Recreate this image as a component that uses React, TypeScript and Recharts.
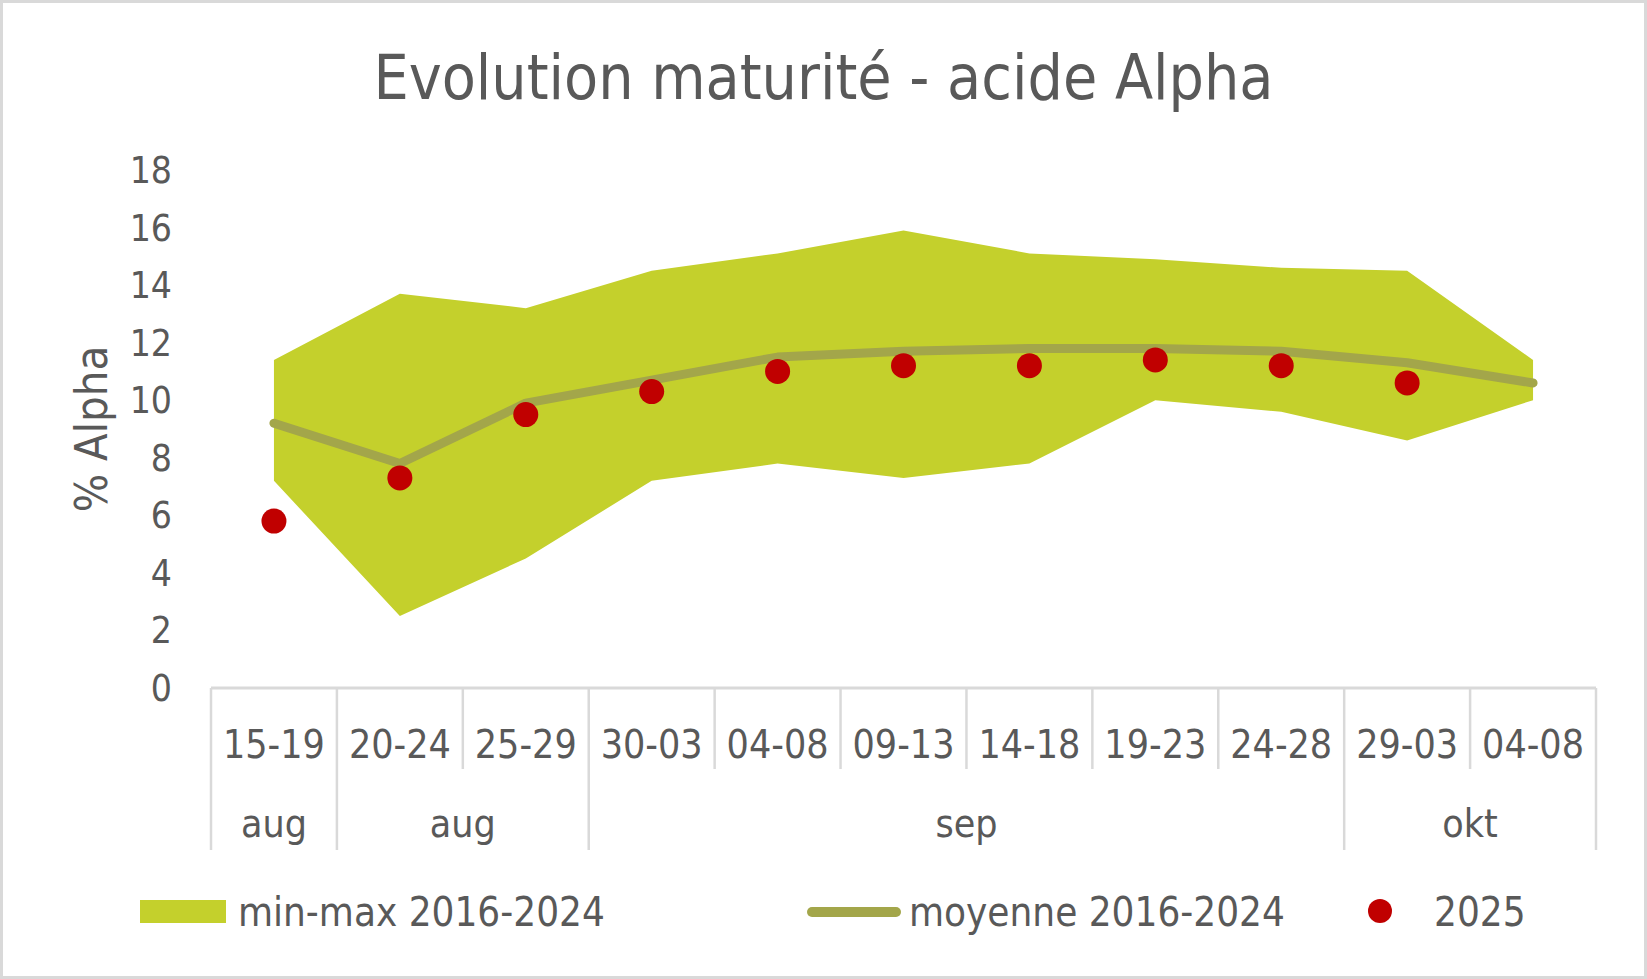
import React from 'react';
import { ComposedChart, Area, Line, XAxis, YAxis, Legend } from 'recharts';

const categories = ['15-19', '20-24', '25-29', '30-03', '04-08', '09-13', '14-18', '19-23', '24-28', '29-03', '04-08'];
const monthLabels = ['aug', 'aug', 'sep', 'okt'];
const monthSpans = [1, 2, 6, 2];
const maxValues = [11.4, 13.7, 13.2, 14.5, 15.1, 15.9, 15.1, 14.9, 14.6, 14.5, 11.4];
const minValues = [7.2, 2.5, 4.5, 7.2, 7.8, 7.3, 7.8, 10.0, 9.6, 8.6, 10.0];
const meanValues = [9.2, 7.8, 9.9, 10.7, 11.5, 11.7, 11.8, 11.8, 11.7, 11.3, 10.6];
const values2025: (number | null)[] = [5.8, 7.3, 9.5, 10.3, 11.0, 11.2, 11.2, 11.4, 11.2, 10.6, null];
const yTicks = [0, 2, 4, 6, 8, 10, 12, 14, 16, 18];

const TITLE = 'Evolution maturité - acide Alpha';
const Y_LABEL = '% Alpha';
const NAME_RANGE = 'min-max 2016-2024';
const NAME_MEAN = 'moyenne 2016-2024';
const NAME_2025 = '2025';

const data = categories.map((cat, i) => ({
  key: `${i}:${cat}`,
  cat,
  range: [minValues[i], maxValues[i]],
  mean: meanValues[i],
  y2025: values2025[i],
}));

const W = 1647;
const H = 979;
const MARGIN = { top: 170, right: 51, bottom: 99, left: 0 };
const YAXIS_W = 211;
const XAXIS_H = 192;
const PLOT_W = W - MARGIN.left - MARGIN.right - YAXIS_W;
const BAND = PLOT_W / categories.length;

const FONT = '"DejaVu Sans Condensed", "DejaVu Sans", sans-serif';
const TEXT = '#595959';
const GRID = '#D9D9D9';
const C_RANGE = '#C4D02C';
const C_MEAN = '#A3A64A';
const C_2025 = '#C00000';

const groupStart: Record<number, { label: string; span: number }> = {};
{
  let acc = 0;
  monthLabels.forEach((label, g) => {
    groupStart[acc] = { label, span: monthSpans[g] };
    acc += monthSpans[g];
  });
}

const XTick = (props: any) => {
  const { x, y, index } = props;
  const left = x - BAND / 2;
  const g = groupStart[index];
  const isLast = index === categories.length - 1;
  return (
    <g>
      <line x1={left} x2={left} y1={y} y2={y + (g ? 162 : 81)} stroke={GRID} strokeWidth={2.5} />
      {isLast && (
        <line x1={x + BAND / 2} x2={x + BAND / 2} y1={y} y2={y + 162} stroke={GRID} strokeWidth={2.5} />
      )}
      <text x={x} y={y + 70} textAnchor="middle" fill={TEXT} fontSize={39} fontFamily={FONT}>
        {categories[index]}
      </text>
      {g && (
        <text x={left + (g.span * BAND) / 2} y={y + 149} textAnchor="middle" fill={TEXT} fontSize={39} fontFamily={FONT}>
          {g.label}
        </text>
      )}
    </g>
  );
};

const YTick = (props: any) => {
  const { x, y, payload } = props;
  return (
    <text x={x} y={y + 13} textAnchor="end" fill={TEXT} fontSize={37} fontFamily={FONT}>
      {payload.value}
    </text>
  );
};

const renderLegend = (props: any) => {
  const payload: any[] = props.payload || [];
  const find = (k: string, fallback: string) => {
    const e = payload.find((p) => p.dataKey === k);
    return e ? e.value : fallback;
  };
  return (
    <svg width={W} height={60} style={{ display: 'block' }}>
      <rect x={140} y={20} width={86} height={23} fill={C_RANGE} />
      <text x={238} y={46} fill={TEXT} fontSize={40} fontFamily={FONT}>{find('range', NAME_RANGE)}</text>
      <line x1={812} x2={896} y1={32} y2={32} stroke={C_MEAN} strokeWidth={10} strokeLinecap="round" />
      <text x={909} y={46} fill={TEXT} fontSize={40} fontFamily={FONT}>{find('mean', NAME_MEAN)}</text>
      <circle cx={1380} cy={31} r={12} fill={C_2025} />
      <text x={1434} y={46} fill={TEXT} fontSize={40} fontFamily={FONT}>{find('y2025', NAME_2025)}</text>
    </svg>
  );
};

export default function App() {
  return (
    <div style={{ position: 'relative', width: W, height: H, background: '#fff', overflow: 'hidden' }}>
      <style>{'body{margin:0;}'}</style>
      <div style={{ position: 'absolute', left: 0, top: 0 }}>
        <ComposedChart width={W} height={H} data={data} margin={MARGIN}>
          <XAxis
            dataKey="key"
            type="category"
            padding={{ left: BAND / 2, right: BAND / 2 }}
            interval={0}
            height={XAXIS_H}
            tickLine={false}
            tickSize={0}
            tickMargin={0}
            axisLine={{ stroke: GRID, strokeWidth: 3 }}
            tick={XTick}
          />
          <YAxis
            width={YAXIS_W}
            domain={[0, 18]}
            ticks={yTicks}
            interval={0}
            axisLine={false}
            tickLine={false}
            tickSize={0}
            tickMargin={39}
            tick={YTick}
            label={{
              content: () => (
                <text
                  x={107}
                  y={429}
                  transform="rotate(-90, 107, 429)"
                  textAnchor="middle"
                  fill={TEXT}
                  fontSize={45}
                  fontFamily={FONT}
                >
                  {Y_LABEL}
                </text>
              ),
            }}
          />
          <Legend
            layout="horizontal"
            verticalAlign="middle"
            align="center"
            wrapperStyle={{ position: 'absolute', top: 880, left: 0, width: W, height: 60 }}
            content={renderLegend}
          />
          <Area
            dataKey="range"
            name={NAME_RANGE}
            type="linear"
            stroke="none"
            fill={C_RANGE}
            fillOpacity={1}
            isAnimationActive={false}
            activeDot={false}
          />
          <Line
            dataKey="mean"
            name={NAME_MEAN}
            type="linear"
            stroke={C_MEAN}
            strokeWidth={9}
            strokeLinecap="round"
            strokeLinejoin="round"
            dot={false}
            activeDot={false}
            isAnimationActive={false}
          />
          <Line
            dataKey="y2025"
            name={NAME_2025}
            type="linear"
            stroke="none"
            strokeWidth={0}
            dot={{ r: 12.5, fill: C_2025, stroke: 'none' }}
            activeDot={false}
            isAnimationActive={false}
          />
        </ComposedChart>
      </div>
      <svg width={W} height={120} style={{ position: 'absolute', left: 0, top: 0, pointerEvents: 'none' }}>
        <text x={W / 2} y={99} textAnchor="middle" fill={TEXT} fontSize={62} fontFamily={FONT}>
          {TITLE}
        </text>
      </svg>
      <div
        style={{
          position: 'absolute',
          inset: 0,
          border: `3px solid ${GRID}`,
          pointerEvents: 'none',
        }}
      />
    </div>
  );
}
